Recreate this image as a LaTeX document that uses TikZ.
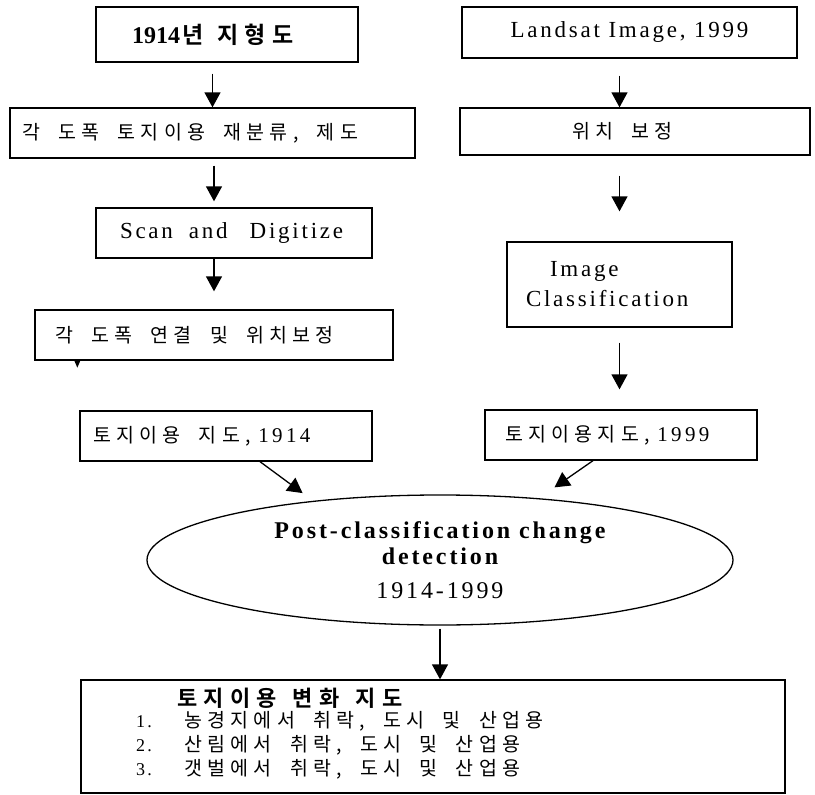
\documentclass[tikz,border=0pt]{standalone}
\usepackage{fontspec}
\usepackage{tikz}
\usetikzlibrary{arrows.meta,positioning,shapes.geometric,calc}
\setmainfont[LetterSpace=12]{Liberation Serif}
\newfontfamily\plainserif{Liberation Serif}
\newfontfamily\numw[LetterSpace=16]{Liberation Serif}
\newfontfamily\kr[LetterSpace=27,WordSpace=1.9]{Noto Sans CJK KR}
\newfontfamily\krbold[LetterSpace=28,WordSpace=1.45]{Noto Sans CJK KR Bold}
\newcommand{\kt}[1]{{\kr\fontsize{19.5}{22}\selectfont\spaceskip=0pt #1}}
\newcommand{\knum}[1]{{\numw\fontsize{21}{24}\selectfont #1}}
\tikzset{
  stepbox/.style={draw=black,line width=1.3pt,inner ysep=0pt,
                  minimum height=50pt,font=\fontsize{23}{27}\selectfont},
  leftbox/.style={stepbox,align=left},
  midbox/.style={stepbox,align=center},
  detbox/.style={draw=black,ellipse,line width=1.3pt,inner sep=0pt,
                 minimum width=586pt,minimum height=130pt,align=center,
                 font=\fontsize{24}{26}\selectfont},
  itemline/.style={anchor=west,inner sep=0pt,font=\fontsize{18}{20}\selectfont},
  arr/.style={-{Triangle[length=15pt,width=16pt]},line width=1.3pt}
}

\begin{document}
\begin{tikzpicture}[x=1pt,y=-1pt]
  \useasboundingbox (0,0) rectangle (815,795);

  % 1914 maps
  \node[leftbox,text width=190pt,inner xsep=36pt,minimum height=55pt] (topo) at (227,34.5)
    {{\plainserif\bfseries\fontsize{24}{28}\selectfont 1914}\hspace{2pt}{\krbold\fontsize{23}{26}\selectfont 년\hspace{14pt}지형도}};
  \node[leftbox,text width=381pt,inner xsep=12pt] (reclass) at (212.5,133)
    {\kt{각 도폭 토지이용 재분류, 제도}};
  \node[leftbox,text width=228pt,inner xsep=24pt] (scan) at (234,233)
    {\mbox{Scan\hspace{16pt}and\hspace{22pt}Digitize}};
  \node[leftbox,text width=318pt,inner xsep=20pt] (mosaic) at (214,335)
    {\kt{각 도폭 연결 및 위치보정}};
  \node[leftbox,text width=266pt,inner xsep=13pt] (lu1914) at (226,436)
    {\kt{토지이용 지도,} \knum{1914}};

  % 1999 image
  \node[midbox,minimum width=335pt,minimum height=51pt] (landsat) at (629.5,32.5)
    {Landsat Image, 1999};
  \node[leftbox,text width=126pt,inner xsep=112pt,minimum height=47pt] (georef) at (635,131.5)
    {\kt{위치 보정}};
  \node[leftbox,text width=187pt,inner xsep=19pt,minimum height=85pt,
        font=\fontsize{23}{30}\selectfont] (classify) at (619.5,284.5)
    {\hspace*{24pt}Image\\Classification};
  \node[leftbox,text width=232pt,inner xsep=20pt] (lu1999) at (621,435)
    {\kt{토지이용지도,} \knum{1999}};

  % change detection
  \node[detbox] (detect) at (440,560)
    {{\bfseries Post-classification change}\\{\bfseries detection}\\[8pt]1914-1999};

  \node[draw,line width=1.3pt,minimum width=704pt,minimum height=113pt,inner sep=0pt] (result) at (433,736.5) {};
  \node[anchor=west,inner sep=0pt] (restitle) at (177,698)
    {\krbold\fontsize{22}{24}\selectfont 토지이용 변화 지도};
  \node[itemline] (item1) at (136,721)
    {\makebox[48pt][l]{1.}\kt{농경지에서 취락, 도시 및 산업용}};
  \node[itemline] (item2) at (136,745)
    {\makebox[48pt][l]{2.}\kt{산림에서 취락, 도시 및 산업용}};
  \node[itemline] (item3) at (136,769)
    {\makebox[48pt][l]{3.}\kt{갯벌에서 취락, 도시 및 산업용}};

  % arrows
  \draw[arr,shorten <=11pt] (topo.south -| reclass.north) -- (reclass.north);
  \draw[arr,shorten <=7pt,shorten >=6pt] (reclass.south -| mosaic.north) -- (scan.north -| mosaic.north);
  \draw[arr,shorten >=18pt] (scan.south -| mosaic.north) -- (mosaic.north);
  \fill ([xshift=40pt]mosaic.south west) -- ++(6,0) -- ++(-3,7) -- cycle;

  \draw[arr,shorten <=17pt] (landsat.south -| classify.north) -- (georef.north -| classify.north);
  \draw[arr,shorten <=20pt,shorten >=30pt] (georef.south -| classify.north) -- (classify.north);
  \draw[arr,shorten <=15pt,shorten >=20pt] (classify.south) -- (lu1999.north -| classify.south);

  \draw[arr,shorten >=13pt] ([xshift=34pt]lu1914.south) -- (detect.155);
  \draw[arr,shorten >=19pt] ([xshift=-28pt]lu1999.south) -- (detect.32);
  \draw[arr,shorten <=3pt] (detect.south) -- (result.north -| detect.south);
\end{tikzpicture}
\end{document}
